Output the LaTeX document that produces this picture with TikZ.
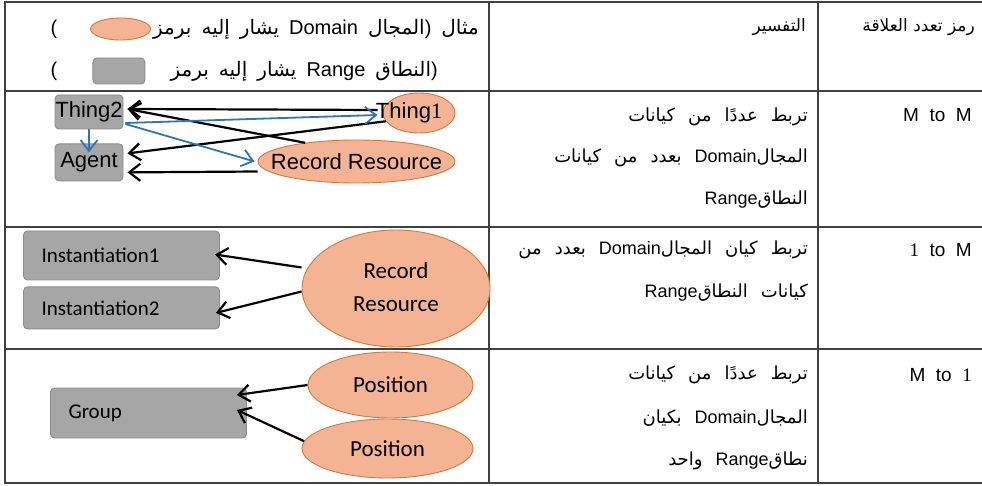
\documentclass[tikz,border=0pt]{standalone}
\usepackage{fontspec}
\setmainfont{Liberation Sans}
\newfontfamily\arabicfont[Script=Arabic]{DejaVu Sans}
\newfontfamily\calibfont{Carlito}
\newfontfamily\numfont{Liberation Serif}
\TeXXeTstate=1
\usetikzlibrary{shapes.geometric,positioning,arrows.meta}
\definecolor{rangegray}{HTML}{A6A6A6}
\definecolor{rangeline}{HTML}{8C8C8C}
\definecolor{domfill}{HTML}{F4B494}
\definecolor{domline}{HTML}{D2773F}
\definecolor{relblue}{HTML}{2E75B6}
\definecolor{gridline}{HTML}{404040}
\newcommand\artxt[1]{{\arabicfont\beginR #1\endR}}
\newcommand\nowd[1]{\makebox[0pt]{#1}}
\newcommand\keyfont{\fontsize{20}{22}\selectfont\spaceskip=10pt\relax}
\newcommand\expfont{\fontsize{18}{20}\selectfont\spaceskip=13pt\relax}

\begin{document}
\begin{tikzpicture}[>={Straight Barb[length=11pt,width=17pt]},x=1pt,y=-1pt]
		\tikzset{
			every node/.style={inner sep=0pt,font=\fontsize{17}{20}\selectfont},
			headtxt/.style={anchor=east,font=\fontsize{17}{20}\selectfont},
			keytxt/.style={anchor=east,font=\keyfont},
			exptxt/.style={anchor=east,font=\expfont},
			multtxt/.style={anchor=east,font=\fontsize{19}{20}\selectfont},
			dom/.style={ellipse,draw=domline,fill=domfill,line width=0.9pt},
			rng/.style={rectangle,rounded corners=4pt,draw=rangeline,fill=rangegray,line width=0.9pt},
			bigtxt/.style={font=\fontsize{22}{24}\selectfont},
			caltxt/.style={font=\calibfont\fontsize{21}{24}\selectfont},
			ellcal/.style={font=\calibfont\fontsize{23}{33}\selectfont},
			relarrow/.style={draw=black,line width=2.2pt},
			bluearrow/.style={draw=relblue,line width=1.8pt},
			grid/.style={draw=gridline,line width=1.4pt}
		}
		\useasboundingbox (0,0) rectangle (982,486);
		\draw[grid] (982,2) -- (5,2) -- (5,483) -- (982,483);
		\foreach \y in {91,227,349} \draw[grid] (5,\y) -- (982,\y);
		\draw[grid] (489,2) -- (489,483);
		\draw[grid] (818,2) -- (818,483);
		% header
		\node[headtxt] (symhead) at (975,27) {\artxt{رمز تعدد العلاقة}};
		\node[headtxt] (exphead) at (806,27) {\artxt{التفسير}};
		\node[keytxt] (domtxt) at (479,29) {\artxt{يشار إليه برمز} Domain \artxt{المجال})\ \artxt{مثال}};
		\node[dom,minimum width=60,minimum height=22,left=2pt of domtxt] (domkey) {};
		\node[font=\keyfont] (domclose) at (54,29) {(};
		\node[keytxt] (rngtxt) at (438,71) {\artxt{يشار إليه برمز} Range \artxt{النطاق})};
		\node[rng,minimum width=52,minimum height=26,left=25pt of rngtxt] (rngkey) {};
		\node[font=\keyfont] (rngclose) at (54,71) {(};
		% M to M
		\node[multtxt] (mm) at (972,115) {M\ \ to\ \ M};
		\node[exptxt] (expmm1) at (808,117) {\artxt{تربط عددًا من كيانات}};
		\node[exptxt] (expmm2) at (808,158) {\artxt{المجال\beginL{\rmfamily Domain}\endL{} بعدد من كيانات}};
		\node[exptxt] (expmm3) at (808,200) {\artxt{النطاق\beginL{\rmfamily Range}\endL}};
		\node[rng,bigtxt,minimum width=68,minimum height=34] (thingtwo) at (89,112) {Thing2};
		\node[rng,bigtxt,minimum width=68,minimum height=37,below=14pt of thingtwo] (agent) {Agent};
		\node[dom,bigtxt,minimum width=72,minimum height=40] (thingone) at (419,113) {\nowd{Thing{\numfont 1}\kern20pt}};
		\node[dom,bigtxt,minimum width=197,minimum height=43] (rrone) at (356.5,161.5) {\nowd{Record Resource}};
		\draw[relarrow,->] ([xshift=-5pt,yshift=3pt]thingone.west) -- ([xshift=4pt,yshift=3pt]thingtwo.east);
		\draw[relarrow,->] (rrone.160) -- ([xshift=4pt,yshift=3pt]thingtwo.east);
		\draw[relarrow,->] (thingone.194) -- ([xshift=4pt,yshift=9pt]agent.east);
		\draw[relarrow,->] ([yshift=-10pt]rrone.west) -- ([xshift=4pt,yshift=-10pt]agent.east);
		\draw[bluearrow,->] ([xshift=2pt,yshift=-11pt]thingtwo.east) -- ([xshift=-5pt,yshift=-2pt]thingone.west);
		\draw[bluearrow,->] ([xshift=2pt,yshift=-12pt]thingtwo.east) -- ([xshift=-3pt]rrone.west);
		\draw[bluearrow,->] (thingtwo.south) -- ([yshift=-9pt]agent.north);
		% 1 to M
		\node[multtxt] (om) at (972,250) {{\numfont 1}\ \ to\ \ M};
		\node[exptxt] (expom1) at (808,250) {\artxt{تربط كيان المجال\beginL{\rmfamily Domain}\endL{} بعدد من}};
		\node[exptxt] (expom2) at (808,293) {\artxt{كيانات النطاق\beginL{\rmfamily Range}\endL}};
		\node[rng,caltxt,text width=160,align=left,inner xsep=18,minimum height=49] (instone) at (121.5,255.5) {Instantiation1};
		\node[rng,caltxt,text width=160,align=left,inner xsep=18,minimum height=42,below=6pt of instone] (insttwo) {Instantiation2};
		\node[dom,ellcal,minimum width=188,minimum height=117] (rrtwo) at (396,288.5) {\nowd{\begin{tabular}{@{}c@{}}Record\\Resource\end{tabular}}};
		\draw[relarrow,->] ([yshift=21pt]rrtwo.west) -- ([xshift=-5pt,yshift=1pt]instone.east);
		\draw[relarrow,->] ([yshift=-3pt]rrtwo.west) -- ([xshift=-4pt,yshift=-5pt]insttwo.east);
		% M to 1
		\node[multtxt] (mo) at (972,375) {M\ \ to\ \ {\numfont 1}};
		\node[exptxt] (expmo1) at (808,375) {\artxt{تربط عددًا من كيانات}};
		\node[exptxt] (expmo2) at (808,418) {\artxt{المجال\beginL{\rmfamily Domain}\endL{} بكيان}};
		\node[exptxt] (expmo3) at (808,461) {\artxt{نطاق\beginL{\rmfamily Range}\endL{} واحد}};
		\node[rng,caltxt,text width=160,align=left,inner xsep=18,minimum height=50] (group) at (148.5,413) {Group};
		\node[dom,ellcal,minimum width=165,minimum height=66] (posone) at (390.5,385) {\nowd{Position}};
		\node[dom,ellcal,minimum width=171,minimum height=59] (postwo) at (387.5,448.5) {\nowd{Position}};
		\draw[relarrow,->] (posone.west) -- ([xshift=-10pt,yshift=18pt]group.east);
		\draw[relarrow,->] (postwo.175) -- ([xshift=-10pt,yshift=3pt]group.east);
\end{tikzpicture}
\end{document}
